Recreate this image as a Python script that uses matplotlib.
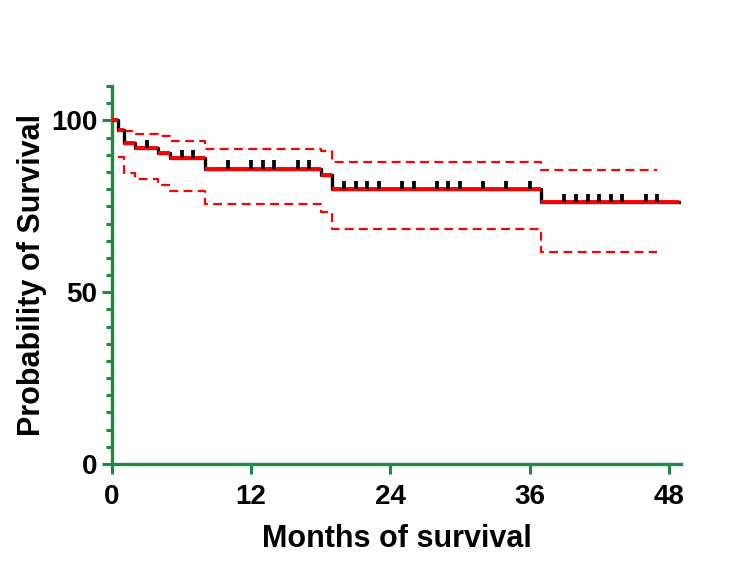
import numpy as np
import matplotlib
matplotlib.use('Agg')
import matplotlib.pyplot as plt

# Kaplan-Meier estimate
step_times = [0, 0.5, 1, 2, 4, 5, 8, 18, 19, 37]
step_surv = [100, 97.1, 93.5, 91.9, 90.4, 89.1, 86.0, 84.0, 80.0, 76.2]
end_time = 48.9

# censored observations
censor_times = [3, 6, 7, 10, 12, 13, 14, 16, 17, 20, 21, 22, 23, 25, 26, 28,
                29, 30, 32, 34, 36, 39, 40, 41, 42, 43, 44, 46, 47]

# 95% confidence band
upper_times = [1, 2, 4, 5, 8, 18, 19, 37]
upper_vals = [96.8, 96.2, 95.4, 93.9, 91.8, 91.0, 87.8, 85.7]
lower_times = [0.5, 1, 2, 4, 5, 8, 18, 19, 37]
lower_vals = [89.3, 84.6, 82.9, 81.2, 79.5, 75.6, 73.3, 68.3, 61.7]
band_end = 47

green = '#1d8a40'
plt.rcParams['font.family'] = ['Liberation Sans', 'DejaVu Sans']
plt.rcParams['font.weight'] = 'bold'

fig = plt.figure(figsize=(7.5, 5.64), dpi=100)
ax = fig.add_axes([0.1493, 0.1773, 0.7587, 0.6700])

# survival curve: black risers, red treads
t = np.array(step_times + [end_time])
s = np.array(step_surv + [step_surv[-1]])
ax.plot(t, s, drawstyle='steps-post', color='black', lw=2.4, zorder=3)
ax.hlines(step_surv, step_times, list(step_times[1:]) + [end_time],
          color='red', lw=2.8, zorder=4)

# censor ticks sitting on the curve
idx = np.searchsorted(step_times, censor_times, side='right') - 1
levels = np.array(step_surv)[idx]
ax.vlines(censor_times, levels, levels + 2.4, color='black', lw=2.7, zorder=5)

# confidence band
ut = upper_times + [band_end]
uv = upper_vals + [upper_vals[-1]]
lt = lower_times + [band_end]
lv = lower_vals + [lower_vals[-1]]
for xx, yy in [(ut, uv), (lt, lv)]:
    ax.plot(xx, yy, drawstyle='steps-post', color='red', lw=1.6,
            linestyle=(0, (4, 2.4)), zorder=2)

ax.set_xlim(0, 49.05)
ax.set_ylim(0, 110)
ax.set_xticks([0, 12, 24, 36, 48])
ax.set_yticks([0, 50, 100])
ax.set_yticks(np.arange(0, 111, 5), minor=True)

for side in ['top', 'right']:
    ax.spines[side].set_visible(False)
for side in ['left', 'bottom']:
    ax.spines[side].set_color(green)
    ax.spines[side].set_linewidth(2.4)

ax.tick_params(axis='both', which='major', length=7.5, width=2.2,
               color=green, labelsize=20)
ax.tick_params(axis='x', which='major', pad=7)
ax.tick_params(axis='y', which='major', pad=3)
ax.tick_params(axis='y', which='minor', length=4.5, width=2.2, color=green)
ax.tick_params(axis='x', which='minor', length=0)

ax.set_xlabel('Months of survival', fontsize=22, fontweight='bold', labelpad=10)
ax.set_ylabel('Probability of Survival', fontsize=22, fontweight='bold', labelpad=3)

fig.savefig('out.png', dpi=100)
